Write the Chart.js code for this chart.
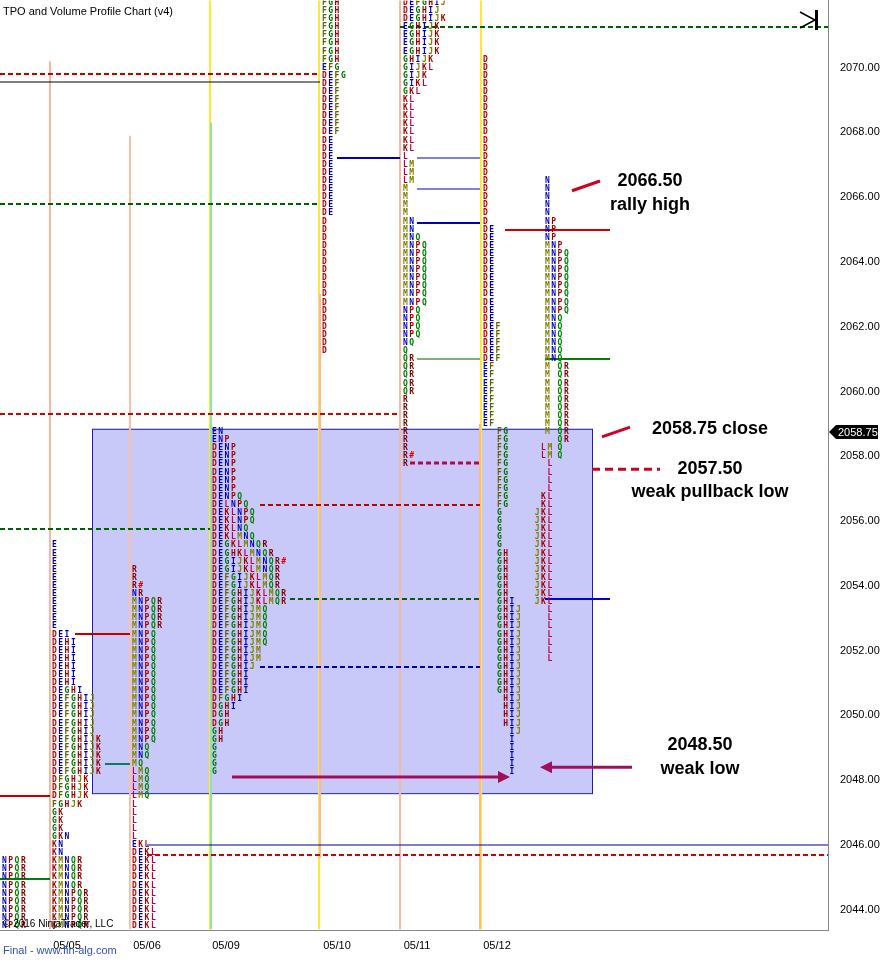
<!DOCTYPE html>
<html><head><meta charset="utf-8">
<script src="https://cdn.jsdelivr.net/npm/chart.js@4"></script>
<style>html,body{margin:0;padding:0;background:#fff;overflow:hidden}#w{position:relative;width:891px;height:962px;overflow:hidden}#c{position:absolute;left:0;top:-10px}</style>
</head><body><div id="w"><canvas id="c" width="891" height="972"></canvas></div>
<script>
// ---- data ----
const priceTicks=[2044,2046,2048,2050,2052,2054,2056,2058,2060,2062,2064,2066,2068,2070];
const dateLabels=["05/05","05/06","05/09","05/10","05/11","05/12"];
const datePos=[67,147,226,337,417,497];
// TPO profiles: x start, segments [topPrice,bottomPrice,letters]
const prof1=[[2045.5,2043.5,"NPQR"]];
const prof2=[[2055.25,2052.75,"E"],[2052.5,2052.5,"DEI"],[2052.25,2051,"DEHI"],[2050.75,2050.75,"DEGHI"],[2050.5,2049.5,"DEFGHIJ"],[2049.25,2048.25,"DEFGHIJK"],[2048,2047.5,"DFGHJK"],[2047.25,2047.25,"FGHJK"],[2047,2046.5,"GK"],[2046.25,2046.25,"GKN"],[2046,2045.75,"KN"],[2045.5,2044.75,"KMNQR"],[2044.5,2043.5,"KMNPQR"]];
const prof3=[[2054.5,2054.25,"R"],[2054,2054,"R#"],[2053.75,2053.75,"NR"],[2053.5,2052.75,"MNPQR"],[2052.5,2049.25,"MNPQ"],[2049,2048.75,"MNQ"],[2048.5,2048.5,"MQ"],[2048.25,2047.5,"LMQ"],[2047.25,2046.25,"L"],[2046,2046,"EKL"],[2045.75,2043.5,"DEKL"]];
const prof4=[[2058.75,2058.75,"EN"],[2058.5,2058.5,"ENP"],[2058.25,2057,"DENP"],[2056.75,2056.75,"DENPQ"],[2056.5,2056.5,"DELNPQ"],[2056.25,2056,"DEKLNPQ"],[2055.75,2055.75,"DEKLNQ"],[2055.5,2055.5,"DEKLMNQ"],[2055.25,2055.25,"DEGKLMNQR"],[2055,2055,"DEGHKLMNQR"],[2054.75,2054.75,"DEGIJKLMNQR#"],[2054.5,2054.5,"DEGIJKLMNQR"],[2054.25,2054,"DEFGIJKLMQR"],[2053.75,2053.5,"DEFGHIJKLMQR"],[2053.25,2052.25,"DEFGHIJMQ"],[2052,2051.75,"DEFGHIJM"],[2051.5,2051.5,"DEFGHIJ"],[2051.25,2050.75,"DEFGHI"],[2050.5,2050.5,"DFGHI"],[2050.25,2050.25,"DGHI"],[2050,2049.75,"DGH"],[2049.5,2049.25,"GH"],[2049,2048.25,"G"]];
const prof5=[[2072,2070.25,"FGH"],[2070,2070,"EFG"],[2069.75,2069.75,"DEFG"],[2069.5,2068,"DEF"],[2067.75,2065.5,"DE"],[2065.25,2061.25,"D"]];
const prof6=[[2072,2072,"DEFGHIJ"],[2071.75,2071.75,"DEGHIJ"],[2071.5,2071.5,"DEGHIJK"],[2071.25,2070.5,"EGHIJK"],[2070.25,2070.25,"GHIJK"],[2070,2070,"GIJKL"],[2069.75,2069.75,"GIJK"],[2069.5,2069.5,"GIKL"],[2069.25,2069.25,"GKL"],[2069,2067.5,"KL"],[2067.25,2067.25,"L"],[2067,2066.5,"LM"],[2066.25,2065.5,"M"],[2065.25,2065,"MN"],[2064.75,2064.75,"MNQ"],[2064.5,2062.75,"MNPQ"],[2062.5,2061.75,"NPQ"],[2061.5,2061.5,"NQ"],[2061.25,2061.25,"Q"],[2061,2060,"QR"],[2059.75,2058.25,"R"],[2058,2058,"R#"],[2057.75,2057.75,"R"]];
const prof7=[[2070.25,2065.25,"D"],[2065,2062.25,"DE"],[2062,2061,"DEF"],[2060.75,2059,"EF"]];
const prof8=[[2058.75,2058.5,"FG"],[2058.25,2058,"FG     LM"],[2057.75,2057,"FG      L"],[2056.75,2056.5,"FG     KL"],[2056.25,2055.25,"G     JKL"],[2055,2053.75,"GH    JKL"],[2053.5,2053.5,"GHI   JKL"],[2053.25,2051.75,"GHIJ    L"],[2051.5,2050.75,"GHIJ"],[2050.5,2049.75," HIJ"],[2049.5,2049.5,"  IJ"],[2049.25,2048.25,"  I"]];
const prof9=[[2066.5,2065.5,"N"],[2065.25,2064.75,"NP"],[2064.5,2064.5,"MNP"],[2064.25,2062.5,"MNPQ"],[2062.25,2061,"MNQ"],[2060.75,2058.75,"M QR"],[2058.5,2058.5,"  QR"],[2058.25,2058,"  Q"]];
const profiles=[[2,prof1],[52,prof2],[132,prof3],[212,prof4],[322,prof5],[403,prof6],[483,prof7],[497,prof8],[545,prof9]];
// vertical lines [x, topPrice, bottomPrice, color]
const vLines=[[50,2070.2,2043.4,"#f8b8a0"],[130,2067.9,2043.4,"#f8c0a8"],[210,2072.1,2043.4,"#ffe830"],[211,2068.3,2043.4,"#90e0b0"],[319,2072.1,2043.4,"#ffe830"],[320,2063.0,2045.6,"#f8b8a0"],[400,2072.1,2043.4,"#f8b8a0"],[481,2072.1,2043.4,"#ffe830"],[480,2059,2043.4,"#f8b8a0"]];
// horizontal levels [price, x0, x1, color, dashed, width]
const hLines=[[2069.8,0,320,"#c00000",1,2],[2069.55,0,320,"#000",0,1],[2065.8,0,320,"#006000",1,2],[2059.3,0,400,"#d00000",1,2],[2055.75,0,210,"#006000",1,2],[2047.5,0,50,"#c00000",0,2],[2044.95,0,50,"#008000",0,2],[2045.7,147,828,"#d00000",1,2],[2046.0,147,828,"#000080",0,1],[2071.25,400,828,"#006000",1,2],[2067.2,337,400,"#0000c0",0,2],[2067.2,417,480,"#0000c0",0,1],[2066.25,417,480,"#0000c0",0,1],[2065.2,417,480,"#0000c0",0,2],[2061,417,480,"#006000",0,1],[2065,505,610,"#d00000",0,2],[2061,545,610,"#008000",0,2],[2057.8,410,480,"#c0004a",1,3],[2056.5,260,480,"#c00000",1,2],[2053.6,290,480,"#006000",1,2],[2053.6,545,610,"#0000e0",0,2],[2051.5,260,480,"#0000c0",1,2],[2052.5,75,130,"#c00000",0,2],[2048.5,105,130,"#008060",0,2]];
const box=[92,592,2058.85,2047.6];
const notes=[["2066.50",650,2066.5],["rally high",650,2065.75],["2058.75 close",710,2058.85],["2057.50",710,2057.6],["weak pullback low",710,2056.9],["2048.50",700,2049.1],["weak low",700,2048.35]];
const noteMarks=[[572,2066.2,600,2066.5,0],[602,2058.6,630,2058.9,0],[592,2057.6,660,2057.6,1]];
const palette={D:"#c00000",E:"#0000b0",F:"#606000",G:"#007000",H:"#900000",I:"#0000c0",J:"#808000",K:"#a00000",L:"#c00040",M:"#808000",N:"#0000c0",P:"#a00000",Q:"#008000",R:"#800000","#":"#e00000"};

const tpo={id:"tpo",afterDatasetsDraw(ch){
 const c=ch.ctx,X=ch.scales.x,Y=ch.scales.y,a=ch.chartArea;
 c.save();c.beginPath();c.rect(a.left,a.top,a.right-a.left,a.bottom-a.top);c.clip();
 c.fillStyle="rgba(120,120,240,0.4)";c.strokeStyle="#2020a0";c.lineWidth=1;
 const bx=X.getPixelForValue(box[0]),bx2=X.getPixelForValue(box[1]),by=Y.getPixelForValue(box[2]),by2=Y.getPixelForValue(box[3]);
 c.fillRect(bx,by,bx2-bx,by2-by);c.strokeRect(bx+.5,by+.5,bx2-bx,by2-by);
 vLines.forEach(v=>{c.strokeStyle=v[3];c.lineWidth=2;c.setLineDash([]);c.beginPath();const x=X.getPixelForValue(v[0]);c.moveTo(x,Y.getPixelForValue(v[1]));c.lineTo(x,Y.getPixelForValue(v[2]));c.stroke();});
 hLines.forEach(h=>{c.strokeStyle=h[3];c.lineWidth=h[5];c.setLineDash(h[4]?[5,3]:[]);c.beginPath();const y=Math.round(Y.getPixelForValue(h[0]));c.moveTo(X.getPixelForValue(h[1]),y);c.lineTo(X.getPixelForValue(h[2]),y);c.stroke();});
 c.setLineDash([]);
 c.font="bold 8px 'DejaVu Sans Mono'";c.textBaseline="middle";
 profiles.forEach(([x0,segs])=>segs.forEach(s=>{for(let p=s[0];p>=s[1]-1e-6;p-=0.25){const y=Y.getPixelForValue(p);for(let i=0;i<s[2].length;i++){const ch2=s[2][i];if(ch2===" ")continue;c.fillStyle=palette[ch2]||"#333";c.fillText(ch2,X.getPixelForValue(x0)+i*6.3,y);}}}));
 c.strokeStyle="#a0105a";c.fillStyle="#a0105a";c.lineWidth=3;
 [[232,510,2048.1],[632,540,2048.4]].forEach(a2=>{const x1=X.getPixelForValue(a2[0]),x2=X.getPixelForValue(a2[1]),y=Y.getPixelForValue(a2[2]);const d=Math.sign(x2-x1);c.beginPath();c.moveTo(x1,y);c.lineTo(x2-d*10,y);c.stroke();c.beginPath();c.moveTo(x2,y);c.lineTo(x2-d*12,y-6);c.lineTo(x2-d*12,y+6);c.fill();});
 noteMarks.forEach(m=>{c.strokeStyle="#d00020";c.lineWidth=3;c.setLineDash(m[4]?[8,5]:[]);c.beginPath();c.moveTo(X.getPixelForValue(m[0]),Y.getPixelForValue(m[1]));c.lineTo(X.getPixelForValue(m[2]),Y.getPixelForValue(m[3]));c.stroke();});
 c.setLineDash([]);
 c.fillStyle="#000";c.font="bold 18px 'Liberation Sans'";c.textAlign="center";c.textBaseline="middle";
 notes.forEach(n=>c.fillText(n[0],X.getPixelForValue(n[1]),Y.getPixelForValue(n[2])));
 c.strokeStyle="#000";c.lineWidth=1.5;c.beginPath();c.moveTo(800,22);c.lineTo(815,30);c.lineTo(800,38);c.stroke();c.fillStyle="#000";c.fillRect(815,20,3,20);
 c.restore();
 c.textAlign="left";c.textBaseline="middle";
 c.fillStyle="#fff";c.fillRect(0,14,190,14);
 c.fillStyle="#000";c.font="11px 'Liberation Sans'";c.fillText("TPO and Volume Profile Chart (v4)",3,22);
 c.font="10px 'Liberation Sans'";c.fillText("© 2016 NinjaTrader, LLC",3,a.bottom-7);
 const yc=Y.getPixelForValue(2058.75);c.fillStyle="#000";c.beginPath();c.moveTo(829,yc);c.lineTo(836,yc-7);c.lineTo(878,yc-7);c.lineTo(878,yc+7);c.lineTo(836,yc+7);c.fill();
 c.fillStyle="#fff";c.font="11px 'Liberation Sans'";c.fillText("2058.75",838,yc+1);
 c.fillStyle="#3050c0";c.fillText("Final - www.fin-alg.com",3,961);
}};

new Chart(document.getElementById("c"),{type:"scatter",data:{datasets:[{data:[]}]},
plugins:[tpo],
options:{responsive:false,animation:false,events:[],layout:{padding:{left:0,right:0,top:0,bottom:8}},
plugins:{legend:{display:false},tooltip:{enabled:false}},
scales:{
 x:{type:"linear",min:0,max:828,afterBuildTicks(s){s.ticks=datePos.map(v=>({value:v}));},
   ticks:{autoSkip:false,maxRotation:0,padding:1,color:"#000",font:{size:11,family:"Liberation Sans"},callback:(v)=>dateLabels[datePos.indexOf(v)]},
   grid:{display:false},border:{color:"#888"}},
 y:{position:"right",min:2043.35,max:2072.07,afterBuildTicks(s){s.ticks=priceTicks.map(v=>({value:v}));},afterFit(s){s.width=63;},
   ticks:{color:"#000",font:{size:11,family:"Liberation Sans"},callback:v=>v.toFixed(2),padding:4},
   grid:{display:false,drawTicks:true},border:{color:"#888"}}
}}});
</script></body></html>
